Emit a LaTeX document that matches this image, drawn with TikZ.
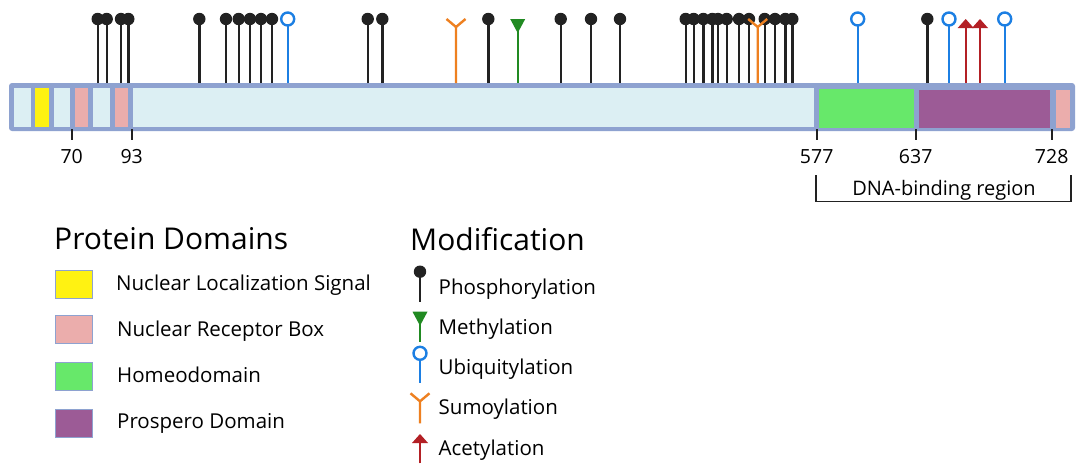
\documentclass[tikz,border=0pt]{standalone}
\usepackage{fontspec}
\setmainfont{Open Sans}
\usetikzlibrary{arrows.meta}
\definecolor{barframe}{RGB}{142,162,208}
\definecolor{seglight}{RGB}{220,239,243}
\definecolor{nlsyellow}{RGB}{255,242,18}
\definecolor{nrpink}{RGB}{235,173,172}
\definecolor{hdgreen}{RGB}{103,232,106}
\definecolor{prpurple}{RGB}{156,91,150}
\definecolor{phoscol}{RGB}{34,34,34}
\definecolor{ubiqcol}{RGB}{28,127,227}
\definecolor{sumocol}{RGB}{238,128,32}
\definecolor{methcol}{RGB}{33,138,34}
\definecolor{acetcol}{RGB}{179,32,37}
\tikzset{
  stemlen/.store in=\stemL, stemlen=64,
  modline/.style={line width=2.4pt},
  phos/.pic={\draw[modline,phoscol] (0,0) -- (0,-\stemL);
             \fill[phoscol] (0,-\stemL) circle[radius=6.2];},
  ubiq/.pic={\draw[modline,ubiqcol] (0,0) -- (0,-\stemL+6.5);
             \draw[modline,ubiqcol,fill=white] (0,-\stemL) circle[radius=6.5];},
  meth/.pic={\draw[modline,methcol] (0,0) -- (0,-\stemL+10);
             \fill[methcol] (-7.5,-\stemL) -- (7.5,-\stemL) -- (0,-\stemL+14) -- cycle;},
  sumo/.pic={\draw[modline,sumocol] (0,0) -- (0,-\stemL+8)
             (-9.5,-\stemL) -- (0,-\stemL+8) -- (9.5,-\stemL);},
  acet/.pic={\draw[modline,acetcol] (0,0) -- (0,-\stemL+7);
             \fill[acetcol] (-8,-\stemL+9) -- (8,-\stemL+9) -- (0,-\stemL) -- cycle;},
  tickmark/.style={line width=2.2pt,draw=phoscol},
  ticklabel/.style={font=\fontsize{19.5}{20}\selectfont,inner sep=0pt,anchor=base},
  title/.style={font=\fontsize{30}{32}\selectfont,inner sep=0pt,anchor=base west},
  legtext/.style={font=\fontsize{20.5}{22}\selectfont,inner sep=0pt,anchor=base west},
  swatch/.style={draw=barframe,line width=1pt,minimum width=37pt,minimum height=28pt,inner sep=0pt},
}
\begin{document}
\begin{tikzpicture}[x=1pt,y=-1pt]
\useasboundingbox[fill=white] (0,0) rectangle (1084,471);
% protein bar
\fill[barframe,rounded corners=3pt] (9,83) rectangle (1075,131);
\fill[seglight] (13.5,88) rectangle (30.5,127);
\fill[nlsyellow] (35,88) rectangle (48.5,127);
\fill[seglight] (53.5,88) rectangle (69.5,127);
\fill[nrpink] (75,88) rectangle (88,127);
\fill[seglight] (93,88) rectangle (110,127);
\fill[nrpink] (115,88) rectangle (128,127);
\fill[seglight] (133,88) rectangle (813.5,127);
\fill[hdgreen] (818.5,89) rectangle (913.5,127.5);
\fill[prpurple] (919,89.5) rectangle (1049.5,127.5);
\fill[nrpink] (1056,89.5) rectangle (1070,127.5);
% ticks and labels
\foreach \x/\t in {71.7/70,131.7/93,816.7/577,915.7/637,1051.7/728}{
  \draw[tickmark] (\x,129) -- (\x,140);
  \node[ticklabel] (t\t) at (\x,163) {\t};
}
% DNA-binding bracket
\draw[line width=1.6pt,draw=phoscol] (815.7,175) -- (815.7,201.5) -- (1070.7,201.5) -- (1070.7,175);
\node[ticklabel,font=\fontsize{20}{22}\selectfont] (dna) at (944,195) {DNA-binding region};
% modification sites
\foreach \x in {97.7,106.7,121,128.3,199.3,226,238.7,250,261,272,367.7,382.3,488.3,560.7,591,620,
                685.7,693.7,703.3,712.3,718,726.7,739,749,764.7,775,785.3,792.3,927.3}
  \pic at (\x,83) {phos};
\foreach \x in {287.7,857.7,949,1004.7}
  \pic at (\x,83) {ubiq};
\pic at (517.7,83) {meth};
\foreach \x in {456,757.7}
  \pic at (\x,83) {sumo};
\foreach \x in {965.7,980}
  \pic at (\x,83) {acet};
% legend: protein domains
\node[title] (ptitle) at (54,249.3) {Protein Domains};
\node[swatch,fill=nlsyellow] (s1) at (74,284.5) {};
\node[swatch,fill=nrpink] (s2) at (74,329.5) {};
\node[swatch,fill=hdgreen] (s3) at (74,376) {};
\node[swatch,fill=prpurple] (s4) at (74,423) {};
\node[legtext] (l1) at (116,290) {Nuclear Localization Signal};
\node[legtext] (l2) at (117,336.5) {Nuclear Receptor Box};
\node[legtext] (l3) at (117,382.3) {Homeodomain};
\node[legtext] (l4) at (117,428.3) {Prospero Domain};
% legend: modification
\node[title] (mtitle) at (410,250) {Modification};
\pic[stemlen=30] at (420,301.7) {phos};
\pic[stemlen=30] at (420,341.7) {meth};
\pic[stemlen=29.5] at (420,382.8) {ubiq};
\pic[stemlen=30] at (420,423.3) {sumo};
\pic[stemlen=29.3] at (420,463.3) {acet};
\node[legtext] (m1) at (438.5,294) {Phosphorylation};
\node[legtext] (m2) at (438.5,334) {Methylation};
\node[legtext] (m3) at (438.5,374) {Ubiquitylation};
\node[legtext] (m4) at (438.5,414.5) {Sumoylation};
\node[legtext] (m5) at (438.5,455) {Acetylation};
\end{tikzpicture}
\end{document}
